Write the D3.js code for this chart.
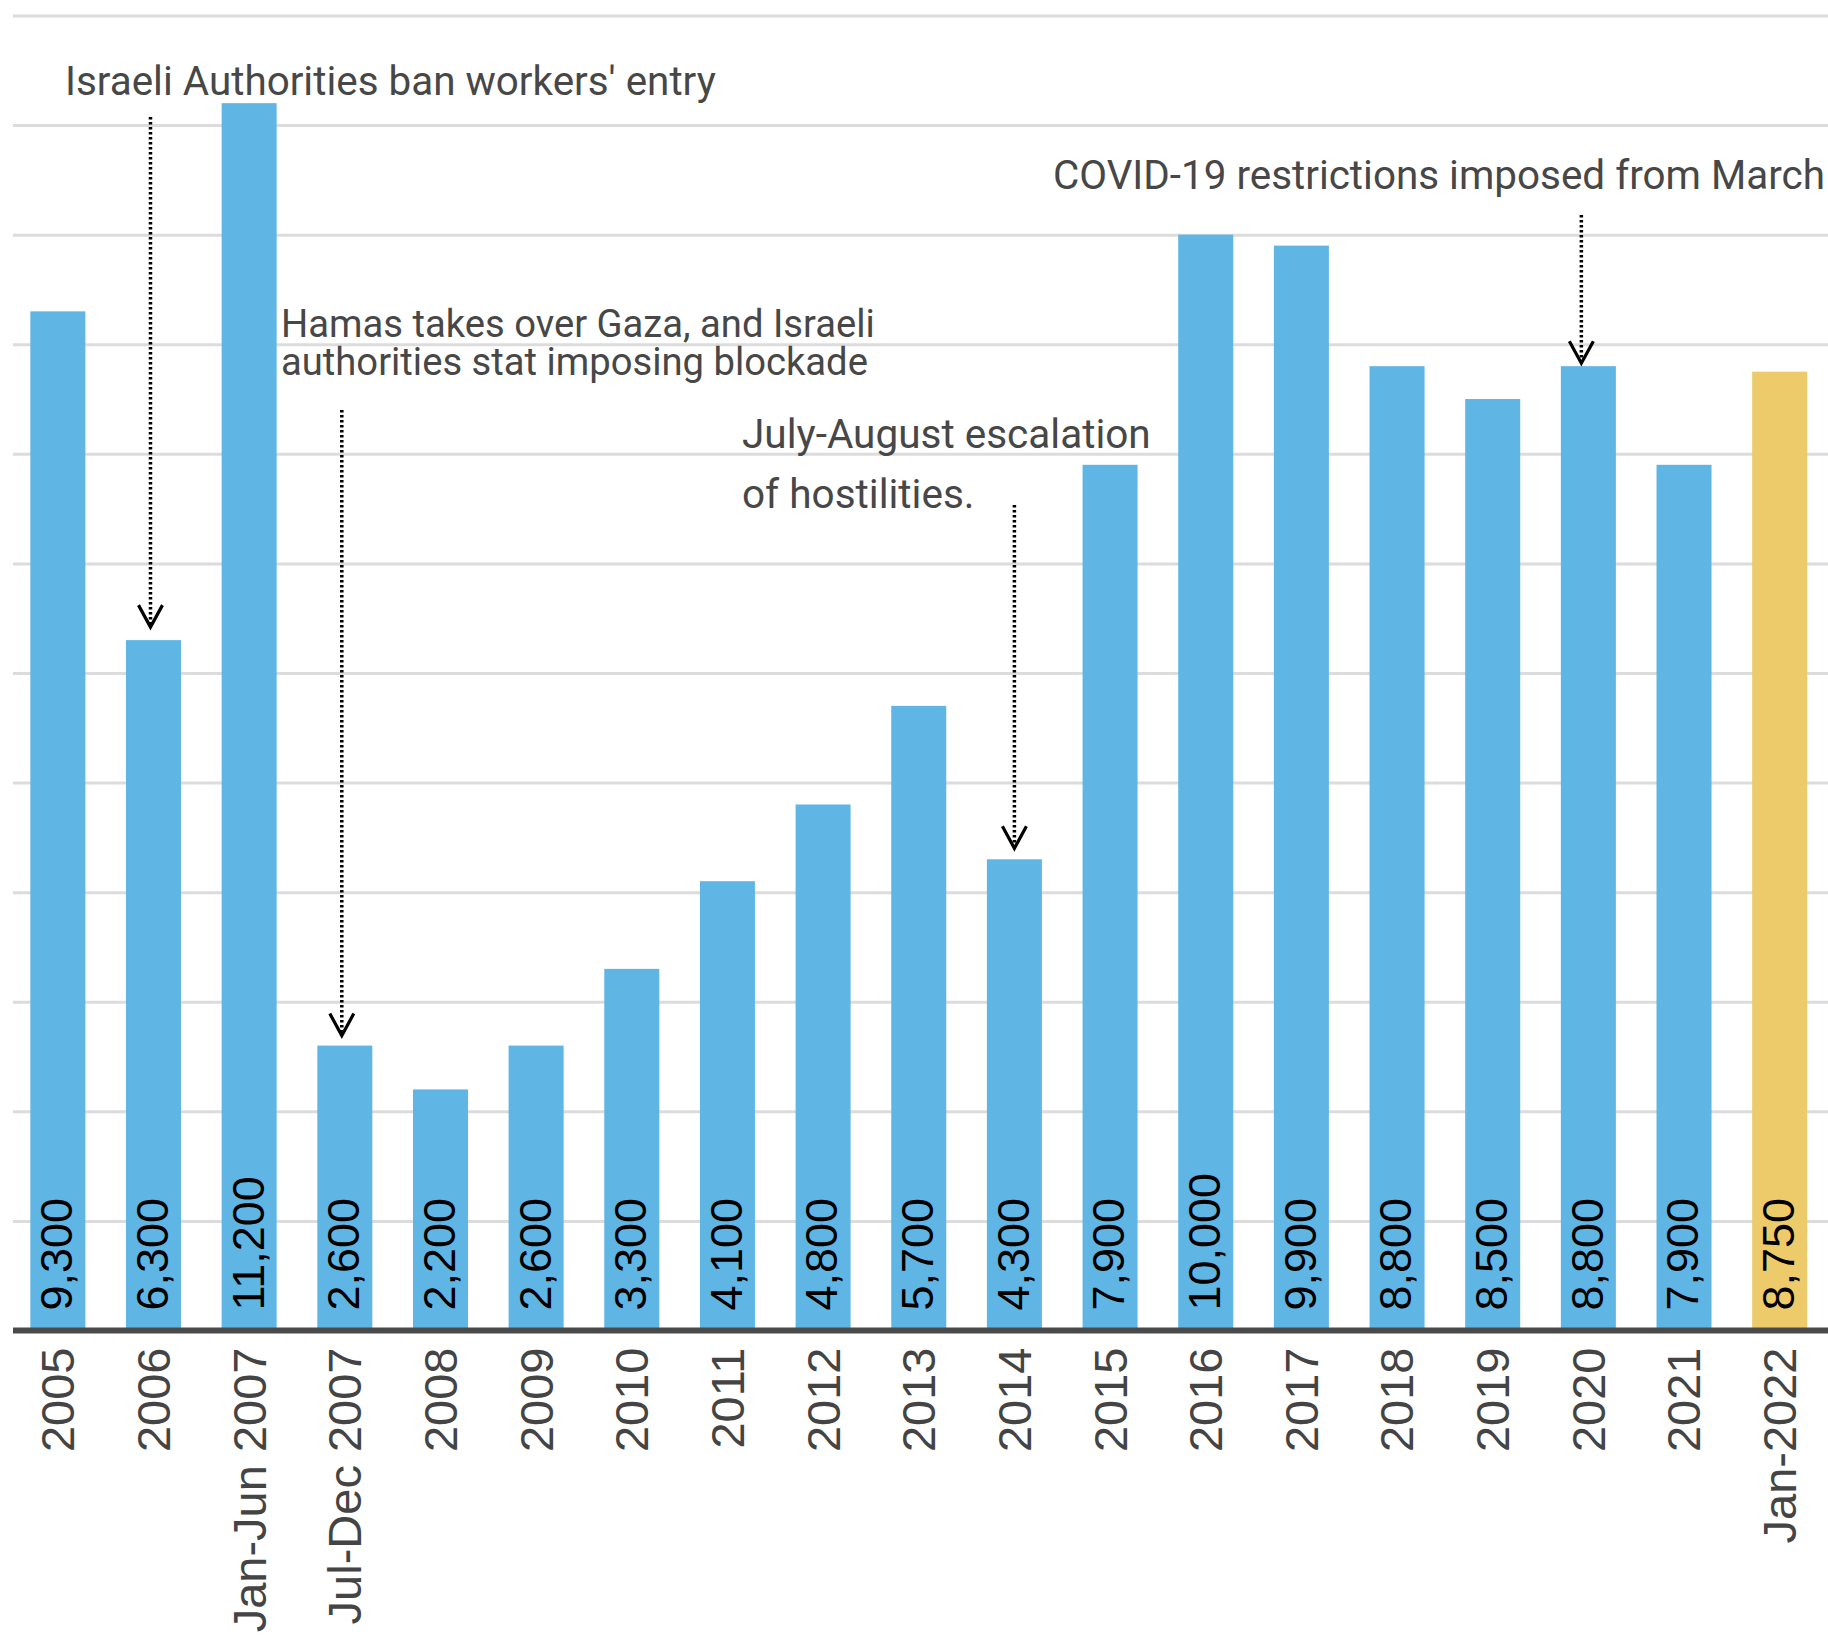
<!DOCTYPE html>
<html>
<head>
<meta charset="utf-8">
<script src="https://cdn.jsdelivr.net/npm/d3@7"></script>
<style>
  html, body { margin: 0; padding: 0; background: #ffffff; }
  svg { display: block; }
</style>
</head>
<body>
<svg id="chart" width="1828" height="1638"></svg>
<script>
// Gaza workers permitted into Israel, by period
const categories = ["2005", "2006", "Jan-Jun 2007", "Jul-Dec 2007", "2008", "2009", "2010",
  "2011", "2012", "2013", "2014", "2015", "2016", "2017", "2018", "2019", "2020", "2021", "Jan-2022"];
const workers = [9300, 6300, 11200, 2600, 2200, 2600, 3300, 4100, 4800, 5700, 4300,
  7900, 10000, 9900, 8800, 8500, 8800, 7900, 8750];
const highlighted = ["Jan-2022"];
const gridValues = [1000, 2000, 3000, 4000, 5000, 6000, 7000, 8000, 9000, 10000, 11000, 12000];

// Event notes and the bar each one points at
const noteText = [
  ["Israeli Authorities ban workers' entry"],
  ["Hamas takes over Gaza, and Israeli", "authorities stat imposing blockade"],
  ["July-August escalation", "of hostilities."],
  ["COVID-19 restrictions imposed from March"]
];
const noteTargets = ["2006", "Jul-Dec 2007", "2014", "2020"];

// Placement of each note (text anchor, font size, line height, arrow start, arrow offsets)
const noteLayout = [
  { x: 65,   y: 95,  size: 40.4, lineHeight: 0,  arrowTop: 117, dx: -3, gap: 13 },
  { x: 281,  y: 337, size: 38.2, lineHeight: 38, arrowTop: 410, dx: -3, gap: 10 },
  { x: 742,  y: 448, size: 40.5, lineHeight: 60, arrowTop: 505, dx: 0,  gap: 11 },
  { x: 1053, y: 189, size: 40.4, lineHeight: 0,  arrowTop: 215, dx: -7, gap: 3 }
];

const W = 1828, H = 1638;
const baseY = 1330.5, topY = 15.5;
const svg = d3.select("#chart");

const x = d3.scaleBand()
  .domain(categories)
  .range([10, 1827.5])
  .paddingInner(0.425)
  .paddingOuter(0.2125);

const y = d3.scaleLinear()
  .domain([0, 12000])
  .range([baseY, topY]);

// Horizontal gridlines
const grid = svg.append("g")
  .attr("transform", "translate(13,0)")
  .call(d3.axisLeft(y).tickValues(gridValues).tickSize(-(W - 13)).tickFormat(""));
grid.select(".domain").remove();
grid.selectAll(".tick line").attr("stroke", "#dcdcdc").attr("stroke-width", 3);

// Bars
const data = categories.map((c, i) => ({ cat: c, value: workers[i] }));
svg.append("g").selectAll("rect")
  .data(data)
  .join("rect")
  .attr("x", d => x(d.cat))
  .attr("y", d => y(d.value))
  .attr("width", x.bandwidth())
  .attr("height", d => y(0) - y(d.value))
  .attr("fill", d => highlighted.includes(d.cat) ? "#eecb6a" : "#5fb5e4");

// Value labels inside the bars, reading upward
const fmt = d3.format(",");
svg.append("g").selectAll("text")
  .data(data)
  .join("text")
  .attr("transform", d => `translate(${x(d.cat) + x.bandwidth() / 2},${baseY - 20}) rotate(-90)`)
  .attr("dy", "0.32em")
  .attr("text-anchor", "start")
  .attr("font-family", "'Liberation Sans', Arial, sans-serif")
  .attr("font-size", 45)
  .attr("fill", "#000")
  .text(d => fmt(d.value));

// Category axis with rotated labels
const xAxis = svg.append("g")
  .attr("transform", `translate(0,${baseY})`)
  .call(d3.axisBottom(x).tickSize(0).tickPadding(0));
xAxis.select(".domain").remove();
xAxis.selectAll(".tick text")
  .attr("transform", "translate(0,17) rotate(-90)")
  .attr("text-anchor", "end")
  .attr("x", 0)
  .attr("y", 0)
  .attr("dy", "0.35em")
  .attr("font-family", "'Liberation Sans', Arial, sans-serif")
  .attr("font-size", 47)
  .attr("fill", "#444");

// Baseline
svg.append("line")
  .attr("x1", 13).attr("x2", W)
  .attr("y1", baseY).attr("y2", baseY)
  .attr("stroke", "#4a4a4a")
  .attr("stroke-width", 6);

// Notes with dotted arrows
const notes = svg.append("g");
noteText.forEach((lines, i) => {
  const L = noteLayout[i];
  const t = notes.append("text")
    .attr("font-family", "Roboto, sans-serif")
    .attr("font-size", L.size)
    .attr("fill", "#474747");
  lines.forEach((ln, j) => {
    t.append("tspan").attr("x", L.x).attr("y", L.y + j * L.lineHeight).text(ln);
  });

  const cat = noteTargets[i];
  const ax = x(cat) + x.bandwidth() / 2 + L.dx;
  const tip = y(workers[categories.indexOf(cat)]) - L.gap;
  notes.append("line")
    .attr("x1", ax).attr("x2", ax)
    .attr("y1", L.arrowTop).attr("y2", tip - 3)
    .attr("stroke", "#000")
    .attr("stroke-width", 3.5)
    .attr("stroke-dasharray", "2.5,2.5");
  notes.append("path")
    .attr("d", `M${ax - 12},${tip - 22} L${ax},${tip} L${ax + 12},${tip - 22}`)
    .attr("fill", "none")
    .attr("stroke", "#000")
    .attr("stroke-width", 3.2);
});
</script>
</body>
</html>
